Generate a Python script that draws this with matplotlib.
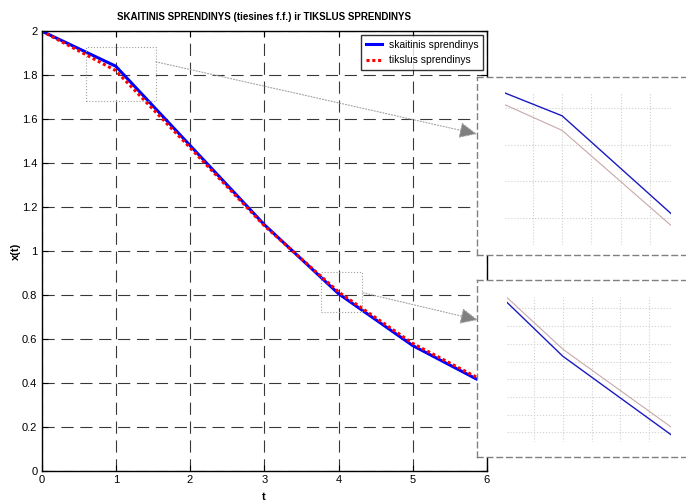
import matplotlib
matplotlib.use("Agg")
import matplotlib.pyplot as plt
from matplotlib.ticker import MultipleLocator

plt.rcParams["font.family"] = ["Liberation Sans Narrow", "Liberation Sans", "DejaVu Sans"]

# duomenys
t = [0, 1, 2, 3, 4, 5, 6]
x_num = [2.0, 1.84, 1.48, 1.12, 0.806, 0.57, 0.393]
x_exact = [2.0, 1.82, 1.47, 1.115, 0.814, 0.58, 0.401]

labels = ["skaitinis sprendinys", "tikslus sprendinys"]
title = "SKAITINIS SPRENDINYS (tiesines f.f.) ir TIKSLUS SPRENDINYS"

# padidinimo stačiakampiai pagrindiniame grafike ir jų ribos iškarpose
zoom_boxes = [(0.60, 1.54, 1.682, 1.927), (3.77, 4.32, 0.724, 0.906)]
inset_lims = [(0.805, 1.372, 1.663, 1.873), (3.806, 4.376, 0.709, 0.873)]
inset_ystep = [0.05, 0.02]

W, H = 686, 501


def px(x0, y0, x1, y1):
    # pikselių koordinatės (nuo viršaus) -> figūros dalys
    return [x0 / W, 1 - y1 / H, (x1 - x0) / W, (y1 - y0) / H]


fig = plt.figure(figsize=(W / 100, H / 100), dpi=100)
ax = fig.add_axes(px(41.5, 31, 487, 471))

ax.plot(t, x_num, color="blue", linewidth=2.2, label=labels[0])
ax.plot(t, x_exact, color="red", linestyle=(0, (1, 0.9)), linewidth=2.2, label=labels[1])

ax.set_xlim(0, 6)
ax.set_ylim(0, 2)
ax.xaxis.set_major_locator(MultipleLocator(1))
ax.yaxis.set_major_locator(MultipleLocator(0.2))
ax.yaxis.set_major_formatter(matplotlib.ticker.FuncFormatter(lambda v, p: f"{v:g}"))
ax.tick_params(direction="in", top=True, right=True, labelsize=8, length=4, width=0.8, pad=3)
ax.grid(True, color="#383838", linestyle=(0, (11, 6)), linewidth=0.8)
for s in ax.spines.values():
    s.set_linewidth(1.0)

ax.set_title(title, fontsize=7.05, fontweight="bold", pad=8)
ax.set_xlabel("t", fontsize=8, fontweight="bold", labelpad=5)
ax.set_ylabel("x(t)", fontsize=8, fontweight="bold", labelpad=1)

leg = ax.legend(loc="upper right", fontsize=7.4, frameon=True, fancybox=False,
                edgecolor="black", handlelength=1.6, borderaxespad=0.4,
                borderpad=0.45, labelspacing=0.55, handletextpad=0.6)
leg.get_frame().set_linewidth(1.0)

# padidinamos sritys
for (a, b, c, d) in zoom_boxes:
    ax.plot([a, b, b, a, a], [c, c, d, d, c], color="#a0a0a0", linestyle=":", linewidth=0.8)

frames = [px(477, 77, 705, 255), px(477, 280, 705, 457)]
inners = [px(505, 91.7, 671, 245), px(507, 297, 671, 442)]
tips = [(477, 134), (478, 320)]
starts = [(1.54, 1.86), (4.33, 0.81)]

for i in range(2):
    fr = fig.add_axes(frames[i], zorder=3)
    fr.set_facecolor("white")
    fr.set_xticks([])
    fr.set_yticks([])
    for s in fr.spines.values():
        s.set_color("#808080")
        s.set_linestyle((0, (4, 3)))
        s.set_linewidth(1.0)

    ins = fig.add_axes(inners[i], zorder=4)
    ins.set_facecolor("none")
    ins.plot(t, x_exact, color="#c9a8a8", linewidth=0.8)
    ins.plot(t, x_num, color="#1a1ac0", linewidth=1.0)
    x0, x1, y0, y1 = inset_lims[i]
    ins.set_xlim(x0, x1)
    ins.set_ylim(y0, y1)
    ins.xaxis.set_major_locator(MultipleLocator(0.1))
    ins.yaxis.set_major_locator(MultipleLocator(inset_ystep[i]))
    ins.tick_params(length=0, labelbottom=False, labelleft=False)
    ins.grid(True, color="#d0d0d0", linestyle=":", linewidth=0.8)
    for s in ins.spines.values():
        s.set_visible(False)

    ax.annotate("", xy=(tips[i][0], H - tips[i][1]), xycoords="figure pixels",
                xytext=starts[i], textcoords="data",
                arrowprops=dict(arrowstyle="-|>,head_length=1.1,head_width=0.5",
                                color="#a0a0a0", fc="#808080", ec="#a0a0a0",
                                linestyle=":", linewidth=0.8, shrinkA=0, shrinkB=0),
                zorder=5)

fig.savefig("out.png", dpi=100)
